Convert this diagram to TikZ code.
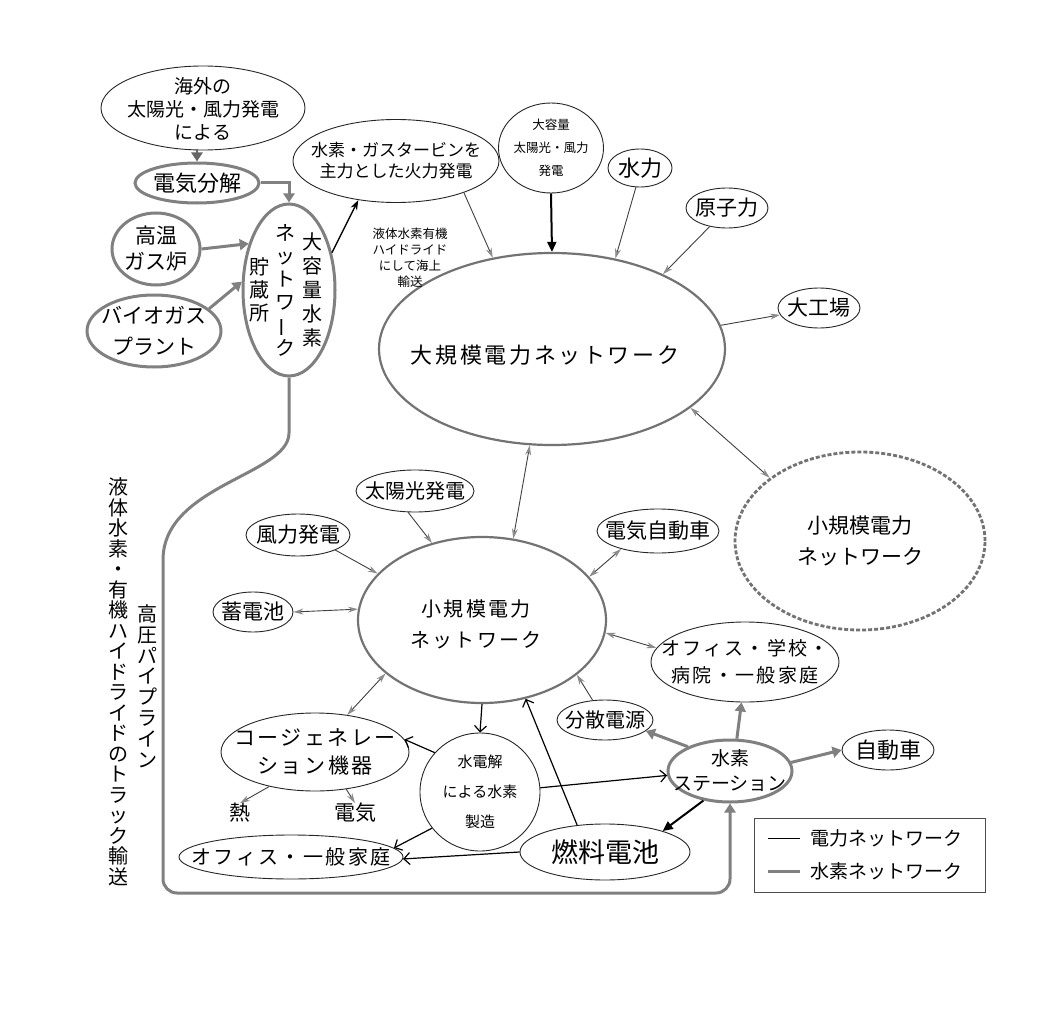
\documentclass[tikz,border=0pt]{standalone}
\usepackage{fontspec}
\setmainfont{Noto Sans CJK JP}
\usetikzlibrary{shapes.geometric,arrows.meta}
\newcommand\fsz[2]{\fontsize{#1pt}{#2pt}\selectfont}
\newcommand\vbar{\rotatebox[origin=c]{90}{ー}}
\newcommand\lsp{\addfontfeatures{LetterSpace=12}}
\begin{document}
\begin{tikzpicture}[x=1pt,y=-1pt,
  en/.style={ellipse, draw=black!85, line width=0.9pt, inner sep=0pt},
  hn/.style={ellipse, draw=black!50, line width=3pt, inner sep=0pt},
  bn/.style={ellipse, draw=black!55, line width=2.2pt, inner sep=0pt},
  dn/.style={ellipse, draw=black!55, line width=2.8pt, dash pattern=on 4pt off 2pt, inner sep=0pt},
  txt/.style={inner sep=0pt, align=center},
  parr/.style={draw=black!75, line width=0.9pt, -{Stealth[length=10pt,width=6pt,color=black!45]}},
  pdarr/.style={draw=black!75, line width=0.9pt, {Stealth[length=10pt,width=6pt,color=black!45]}-{Stealth[length=10pt,width=6pt,color=black!45]}},
  harr/.style={draw=black!50, line width=3pt, -{Triangle[length=9pt,width=11pt]}},
  ovarr/.style={draw=black!60, line width=2.5pt, -{Triangle[length=9pt,width=11pt]}},
  barr/.style={draw=black, line width=1.2pt, -{Straight Barb[length=6pt,width=12pt]}},
  karr/.style={draw=black, line width=1.4pt, -{Stealth[length=10pt,width=7pt]}},
  bkarr/.style={draw=black, line width=2pt, -{Triangle[length=10pt,width=9pt]}}]
\fill[white] (0,0) rectangle (1058,1014);
\useasboundingbox (0,0) rectangle (1058,1014);
% ---------- nodes ----------
\node[en, minimum width=204pt, minimum height=84pt] (ov) at (203,108) {};
\node[txt, font=\fsz{19}{23}] (ovt) at (203,109) {海外の\\太陽光・風力発電\\による};
\node[hn, minimum width=124pt, minimum height=40pt] (denki) at (197,183) {};
\node[txt, font=\fsz{22}{25}] (denkit) at (denki) {電気分解};
\node[hn, minimum width=88pt, minimum height=72pt] (kouon) at (156,249) {};
\node[txt, font=\fsz{21}{26}] (kouont) at (kouon) {高温\\ガス炉};
\node[hn, minimum width=134pt, minimum height=72pt] (bio) at (154,331) {};
\node[txt, font=\fsz{21}{31}] (biot) at (bio) {バイオガス\\プラント};
\node[hn, minimum width=92pt, minimum height=172pt] (stor) at (289,290) {};
\node[txt, font=\fsz{20}{24}] (stor1) at (312,290) {大\\容\\量\\水\\素};
\node[txt, font=\fsz{20}{23}] (stor2) at (285,290) {ネ\\ッ\\ト\\ワ\\\vbar\\ク};
\node[txt, font=\fsz{20}{23}] (stor3) at (259,290) {貯\\蔵\\所};
\node[en, minimum width=206pt, minimum height=83pt] (gt) at (396,161) {};
\node[txt, font=\fsz{17}{21}] (gtt) at (gt) {水素・ガスタービンを\\主力とした火力発電};
\node[en, minimum width=105pt, minimum height=90pt] (lg) at (551,148) {};
\node[txt, font=\fsz{12.5}{23}] (lgt) at (lg) {大容量\\太陽光・風力\\発電};
\node[en, minimum width=64pt, minimum height=38pt] (sui) at (640,168) {};
\node[txt, font=\fsz{22}{26}] (suit) at (sui) {水力};
\node[en, minimum width=82pt, minimum height=40pt] (gen) at (727,208) {};
\node[txt, font=\fsz{21}{25}] (gent) at (gen) {原子力};
\node[en, minimum width=82pt, minimum height=40pt] (koujou) at (819,308) {};
\node[txt, font=\fsz{21}{25}] (koujout) at (koujou) {大工場};
\node[bn, minimum width=346pt, minimum height=192pt] (big) at (552,349) {};
\node[txt, font=\fsz{22}{25}\lsp] (bigt) at (545,355) {大規模電力ネットワーク};
\node[txt, font=\fsz{12.5}{16}] (sea) at (410,258) {液体水素有機\\ハイドライド\\にして海上\\輸送};
\node[dn, minimum width=250pt, minimum height=178pt] (dsmall) at (860,541) {};
\node[txt, font=\fsz{21}{31}] (dsmallt) at (dsmall) {小規模電力\\ネットワーク};
\node[bn, minimum width=248pt, minimum height=166pt] (csmall) at (482,620) {};
\node[txt, font=\fsz{20}{31}\lsp] (csmallt) at (476,624) {小規模電力\\ネットワーク};
\node[en, minimum width=118pt, minimum height=42pt] (taiyo) at (415,491) {};
\node[txt, font=\fsz{20}{24}] (taiyot) at (taiyo) {太陽光発電};
\node[en, minimum width=104pt, minimum height=42pt] (fu) at (298,535) {};
\node[txt, font=\fsz{21}{25}] (fut) at (fu) {風力発電};
\node[en, minimum width=80pt, minimum height=40pt] (chiku) at (253,612) {};
\node[txt, font=\fsz{21}{25}] (chikut) at (chiku) {蓄電池};
\node[en, minimum width=122pt, minimum height=44pt] (ev) at (658,531) {};
\node[txt, font=\fsz{21}{25}] (evt) at (ev) {電気自動車};
\node[en, minimum width=188pt, minimum height=80pt] (off1) at (745,662) {};
\node[txt, font=\fsz{19}{27}\lsp] (off1t) at (off1) {オフィス・学校・\\病院・一般家庭};
\node[en, minimum width=96pt, minimum height=40pt] (bunsan) at (605,720) {};
\node[txt, font=\fsz{20}{24}] (bunsant) at (bunsan) {分散電源};
\node[hn, minimum width=124pt, minimum height=62pt] (st) at (730,771) {};
\node[txt, font=\fsz{19}{25}] (stt) at (st) {水素\\ステーション};
\node[en, minimum width=92pt, minimum height=40pt] (car) at (888,750) {};
\node[txt, font=\fsz{22}{26}] (cart) at (car) {自動車};
\node[en, minimum width=188pt, minimum height=78pt] (cogen) at (315,752) {};
\node[txt, font=\fsz{21}{28}\lsp] (cogent) at (cogen) {コージェネレー\\ション機器};
\node[en, minimum width=120pt, minimum height=118pt] (elec) at (480,792) {};
\node[txt, font=\fsz{15}{30}] (elect) at (elec) {水電解\\による水素\\製造};
\node[txt, font=\fsz{21}{24}] (netsu) at (240,813) {熱};
\node[txt, font=\fsz{21}{24}] (denkiL) at (355,813) {電気};
\node[en, minimum width=224pt, minimum height=44pt] (off2) at (291,857) {};
\node[txt, font=\fsz{20}{24}\lsp] (off2t) at (off2) {オフィス・一般家庭};
\node[en, minimum width=170pt, minimum height=56pt] (fc) at (605,852) {};
\node[txt, font=\fsz{27}{30}] (fct) at (fc) {燃料電池};
% vertical side texts
\node[txt, font=\fsz{20}{20.5}] (truck) at (118,682) {液\\体\\水\\素\\・\\有\\機\\ハ\\イ\\ド\\ラ\\イ\\ド\\の\\ト\\ラ\\ッ\\ク\\輸\\送};
\node[txt, font=\fsz{20}{20.8}] (pipe) at (147,686) {高\\圧\\パ\\イ\\プ\\ラ\\イ\\ン};
% legend
\node[draw=black!70, line width=1pt, minimum width=231pt, minimum height=74pt, inner sep=0pt] (leg) at (869.5,855) {};
\coordinate (la1) at (768,838);
\coordinate (lb1) at (800,838);
\coordinate (la2) at (768,871);
\coordinate (lb2) at (800,871);
\draw[black, line width=1pt] (la1) -- (lb1);
\draw[black!50, line width=3pt] (la2) -- (lb2);
\node[txt, font=\fsz{19}{23}, anchor=west] (leg1) at (810,838) {電力ネットワーク};
\node[txt, font=\fsz{19}{23}, anchor=west] (leg2) at (810,871) {水素ネットワーク};
% ---------- connectors ----------
% hydrogen supply
\draw[ovarr] (denki.north |- ov.south) -- (denki.north);
\draw[harr] (denki.east) -| (stor.north);
\draw[harr] (kouon.east) -- (stor.131);
\draw[harr] (bio.22) -- (stor.170);
\draw[karr] (stor.41) -- (gt.226);
% large grid
\draw[parr] (gt.-25) -- (big.123);
\draw[bkarr] (lg.south) -- (big.north);
\draw[parr] (sui.258) -- (big.55);
\draw[parr] (gen.227) -- (big.34);
\draw[parr] (big.8) -- (koujou.190);
\draw[pdarr] (big.-23) -- (dsmall.145);
\draw[pdarr] (big.257) -- (csmall.69);
% small grid
\draw[parr] (taiyo.252) -- (csmall.123);
\draw[parr] (fu.-22) -- (csmall.156);
\draw[pdarr] (chiku.east) -- (csmall.175);
\draw[pdarr] (ev.206) -- (csmall.22);
\draw[pdarr] (csmall.-6.5) -- (off1.171);
\draw[parr] (bunsan.122) -- (csmall.-30);
\draw[pdarr] (csmall.209) -- (cogen.49);
\draw[parr] (cogen.217) -- (netsu.north);
\draw[parr] (cogen.-50) -- (denkiL.north);
% electrolysis / fuel cell
\draw[barr] (csmall.south) -- (elec.north);
\draw[barr] (elec.139) -- (cogen.8);
\draw[barr] (elec.4) -- (st.184);
\draw[barr] (elec.217) -- (off2.5);
\draw[barr] (fc.west) -- (off2.-1);
\draw[barr] (fc.136) -- (csmall.-61);
\draw[bkarr] (st.228) -- (fc.20);
% hydrogen station
\draw[harr] (st.150) -- (bunsan.-15);
\draw[harr] (st.78) -- (off1.265);
\draw[harr] (st.8) -- (car.west);
% pipeline
\draw[harr] (stor.south) -- (289,433) .. controls (289,475) and (163,485) .. (163,560) [rounded corners=14pt] -- (163,893) -- (730,893) -- (st.south);
\end{tikzpicture}
\end{document}
